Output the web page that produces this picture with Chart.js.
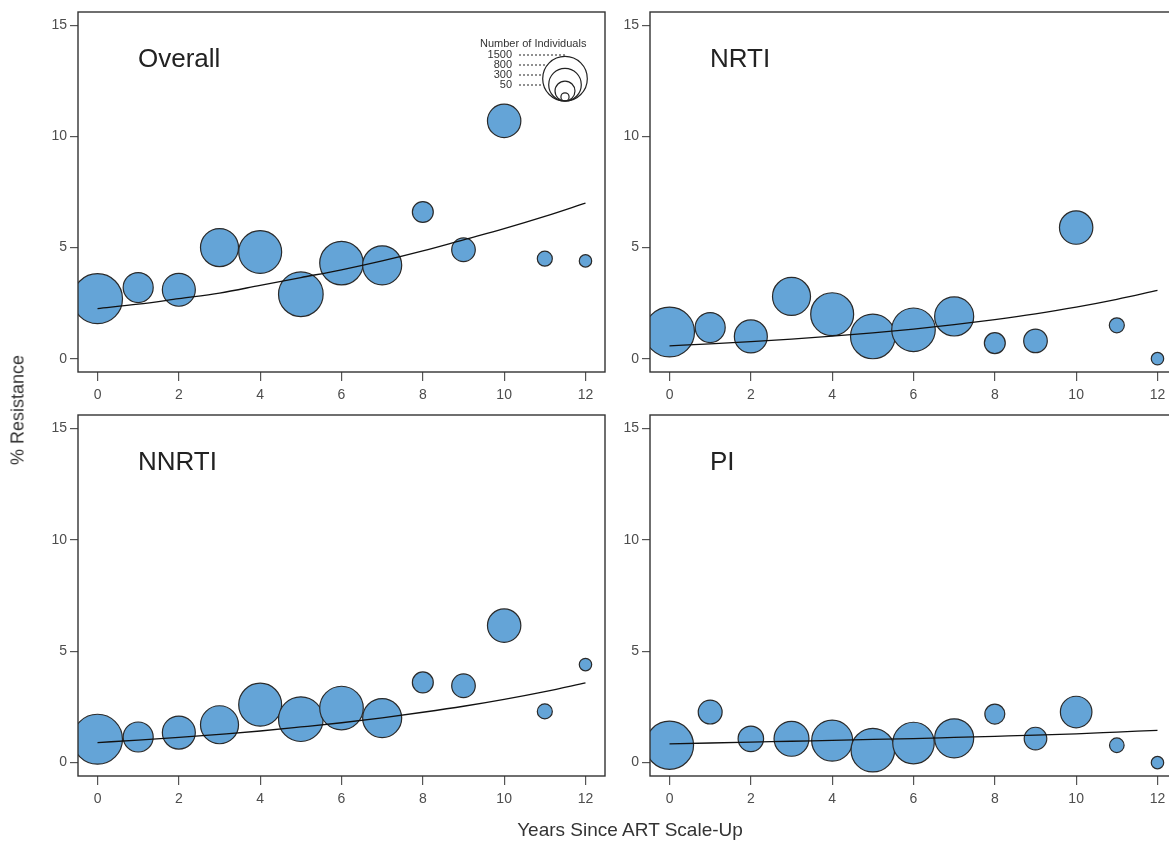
<!DOCTYPE html>
<html>
<head>
<meta charset="utf-8">
<script src="https://cdn.jsdelivr.net/npm/chart.js@4.4.0/dist/chart.umd.min.js"></script>
<style>
  html, body { margin: 0; padding: 0; background: #fff; overflow: hidden; }
  body { width: 1169px; height: 842px; position: relative; font-family: "Liberation Sans", Arial, sans-serif; }
  canvas { position: absolute; }
  #ytitle { position: absolute; left: 18px; top: 410px; transform: translate(-50%, -50%) rotate(-90deg);
            font-size: 18px; color: #333; white-space: nowrap; }
  #xtitle { position: absolute; left: 630px; top: 830px; transform: translate(-50%, -50%);
            font-size: 19px; color: #333; white-space: nowrap; }
</style>
</head>
<body>
<canvas id="cOverall" width="620" height="420" style="left:0;top:0"></canvas>
<canvas id="cNrti" width="620" height="420" style="left:600px;top:0"></canvas>
<canvas id="cNnrti" width="620" height="420" style="left:0;top:402px"></canvas>
<canvas id="cPi" width="620" height="420" style="left:600px;top:402px"></canvas>
<div id="ytitle">% Resistance</div>
<div id="xtitle">Years Since ART Scale-Up</div>

<script>
// === DADOS =================================================================
const anos   = [0, 1, 2, 3, 4, 5, 6, 7, 8, 9, 10, 11, 12];
const xTicks = [0, 2, 4, 6, 8, 10, 12];
const yTicks = [0, 5, 10, 15];

// numero de individuos por ano (tamanho das bolhas)
const nIndividuos   = [1880, 680, 820, 1090, 1390, 1500, 1430, 1150, 330, 420, 840, 170, 116];
const nIndividuosPI = [1740, 430, 490, 920, 1270, 1430, 1300, 1150, 300, 385, 750, 160, 116];
const legendaN      = [1500, 800, 300, 50];

const overallPct = [2.7, 3.2, 3.1, 5.0, 4.8, 2.9, 4.3, 4.2, 6.6, 4.9, 10.7, 4.5, 4.4];
const overallFit = [2.25, 2.45, 2.7, 2.95, 3.3, 3.65, 4.0, 4.4, 4.85, 5.35, 5.85, 6.4, 7.0];

const nrtiPct = [1.2, 1.4, 1.0, 2.8, 2.0, 1.0, 1.3, 1.9, 0.7, 0.8, 5.9, 1.5, 0.0];
const nrtiFit = [0.58, 0.67, 0.77, 0.88, 1.01, 1.16, 1.33, 1.53, 1.76, 2.02, 2.32, 2.67, 3.07];

const nnrtiPct = [1.05, 1.15, 1.35, 1.7, 2.6, 1.95, 2.45, 2.0, 3.6, 3.45, 6.15, 2.3, 4.4];
const nnrtiFit = [0.9, 1.01, 1.13, 1.27, 1.42, 1.6, 1.79, 2.01, 2.26, 2.53, 2.84, 3.19, 3.58];

const piPct = [0.78, 2.27, 1.07, 1.07, 0.99, 0.56, 0.88, 1.09, 2.18, 1.08, 2.27, 0.78, 0.0];
const piFit = [0.84, 0.88, 0.92, 0.96, 1.0, 1.04, 1.08, 1.13, 1.18, 1.23, 1.29, 1.37, 1.45];

// === HELPERS ===============================================================
const FONTE = '"Liberation Sans", Arial, sans-serif';
const raio = n => 0.576 * Math.sqrt(n);   // area da bolha ~ n

function desenhaLegenda(ctx, a) {
  const cx = a.right - 40;
  const base = a.top + 89;
  const rMax = raio(legendaN[0]);
  const cyMax = base - rMax;
  ctx.fillStyle = '#333';
  ctx.strokeStyle = '#222';
  ctx.font = '11px ' + FONTE;
  ctx.textBaseline = 'middle';
  ctx.textAlign = 'left';
  ctx.fillText('Number of Individuals', a.right - 125, a.top + 32);
  legendaN.forEach((n, i) => {
    const r = raio(n);
    const ly = a.top + 43 + i * 10;
    ctx.textAlign = 'right';
    ctx.fillText(String(n), a.right - 93, ly);
    const dy = ly - cyMax;
    const xFim = Math.abs(dy) >= rMax ? cx : cx - Math.sqrt(rMax * rMax - dy * dy);
    ctx.lineWidth = 1;
    ctx.setLineDash([2, 2]);
    ctx.beginPath(); ctx.moveTo(a.right - 86, ly); ctx.lineTo(xFim, ly); ctx.stroke();
    ctx.setLineDash([]);
    ctx.lineWidth = 1.2;
    ctx.beginPath(); ctx.arc(cx, base - r, r, 0, Math.PI * 2); ctx.stroke();
  });
}

const painelPlugin = {
  id: 'painel',
  afterDraw(chart, args, opts) {
    const { ctx, chartArea: a } = chart;
    ctx.save();
    ctx.strokeStyle = '#333';
    ctx.lineWidth = 1.4;
    ctx.strokeRect(a.left, a.top, a.right - a.left, a.bottom - a.top);
    ctx.fillStyle = '#222';
    ctx.font = '26px ' + FONTE;
    ctx.textBaseline = 'middle';
    ctx.textAlign = 'left';
    ctx.fillText(opts.titulo, a.left + 60, a.top + 48);
    if (opts.legenda) desenhaLegenda(ctx, a);
    ctx.restore();
  }
};

// tamanho fixo do eixo, sem folga extra para os rotulos
function fixaEixo(s, prop, valor) {
  s[prop] = valor;
  s.paddingTop = s.paddingBottom = s.paddingLeft = s.paddingRight = 0;
}

function criaPainel(id, titulo, pct, fit, tamanhos, padding, legenda) {
  return new Chart(document.getElementById(id), {
    type: 'bubble',
    data: {
      datasets: [
        {
          type: 'line',
          data: anos.map((x, i) => ({ x, y: fit[i] })),
          borderColor: '#111',
          borderWidth: 1.3,
          pointRadius: 0,
          cubicInterpolationMode: 'monotone',
          order: 0
        },
        {
          data: anos.map((x, i) => ({ x, y: pct[i], r: raio(tamanhos[i]) })),
          backgroundColor: '#64a4d7',
          borderColor: '#2a2a2a',
          borderWidth: 1.2,
          clip: 0,
          order: 1
        }
      ]
    },
    options: {
      responsive: false,
      devicePixelRatio: 1,
      animation: false,
      layout: { padding, autoPadding: false },   // bolhas grandes nao empurram a area
      plugins: {
        legend: { display: false },
        tooltip: { enabled: false },
        painel: { titulo, legenda }
      },
      scales: {
        x: {
          type: 'linear', min: -0.48, max: 12.48,
          afterBuildTicks: s => { s.ticks = xTicks.map(v => ({ value: v })); },
          afterFit: s => fixaEixo(s, 'height', 40),
          grid: { drawOnChartArea: false, tickLength: 9, color: '#555', lineWidth: 1.2 },
          border: { display: false },
          ticks: { padding: 6, color: '#4d4d4d', font: { family: FONTE, size: 14 } }
        },
        y: {
          type: 'linear', min: -0.6, max: 15.6,
          afterBuildTicks: s => { s.ticks = yTicks.map(v => ({ value: v })); },
          afterFit: s => fixaEixo(s, 'width', 40),
          grid: { drawOnChartArea: false, tickLength: 8, color: '#555', lineWidth: 1.2 },
          border: { display: false },
          ticks: { padding: 3, color: '#4d4d4d', font: { family: FONTE, size: 14 } }
        }
      }
    },
    plugins: [painelPlugin]
  });
}

// === PAINEIS ===============================================================
criaPainel('cOverall', 'Overall', overallPct, overallFit, nIndividuos,
  { left: 38, right: 15, top: 12, bottom: 8 }, true);
criaPainel('cNrti', 'NRTI', nrtiPct, nrtiFit, nIndividuos,
  { left: 10, right: 43, top: 12, bottom: 8 }, false);
criaPainel('cNnrti', 'NNRTI', nnrtiPct, nnrtiFit, nIndividuos,
  { left: 38, right: 15, top: 13, bottom: 6 }, false);
criaPainel('cPi', 'PI', piPct, piFit, nIndividuosPI,
  { left: 10, right: 43, top: 13, bottom: 6 }, false);
</script>
</body>
</html>
